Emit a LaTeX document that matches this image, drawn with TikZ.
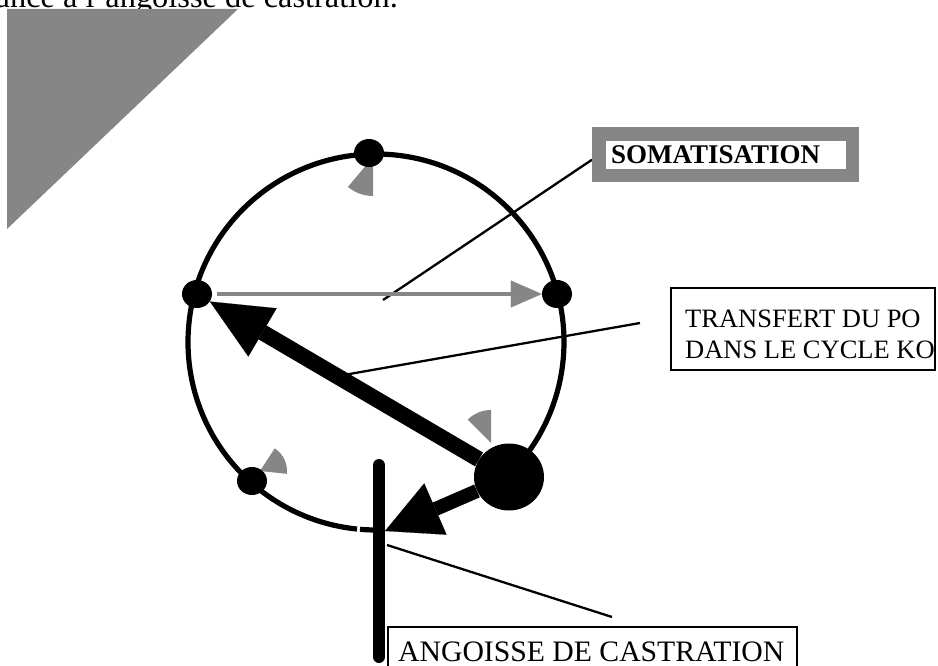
\documentclass[tikz,border=0pt]{standalone}
\usepackage{fontspec}
\setmainfont{Liberation Serif}
\usetikzlibrary{arrows.meta,shapes.geometric,calc}
\definecolor{hatch}{RGB}{134,134,134}
\pgfdeclarelayer{bg}
\pgfsetlayers{bg,main}
\begin{document}
\begin{tikzpicture}[x=1pt,y=-1pt,
  dot/.style={ellipse, fill=black, inner sep=0pt, minimum width=30pt, minimum height=28pt},
  bigdot/.style={ellipse, fill=black, inner sep=0pt, minimum width=70pt, minimum height=67pt},
  ring/.style={line width=5.2pt},
  leader/.style={line width=2.3pt},
  wedge/.style={fill=hatch},
  framebox/.style={draw, line width=2.4pt, inner sep=0pt, anchor=north west},
  plain/.style={inner sep=0pt},
]
\useasboundingbox (0,0) rectangle (938,666);

% running text above the figure
\node[plain, font=\fontsize{32.4}{37}\selectfont, anchor=base east] (heading) at (398,8) {ance à l’angoisse de castration.};
\fill[hatch] (7,9) -- (238,9) -- (7,229) -- cycle;

% points on the cycle
\coordinate (c) at (376,342);
\node[dot] (top) at (369,153) {};
\node[dot] (ldot) at (197,294) {};
\node[dot] (rdot) at (557,294) {};
\node[dot] (lldot) at (252,481) {};
\node[bigdot] (po) at (509,477) {};

% castration bar
\coordinate (bartop) at (379,465);
\coordinate (barbot) at (379,657);
\coordinate (cut) at (385,531);

% labels
\node[fill=hatch, inner sep=0pt, anchor=north west,
      minimum width=267pt, minimum height=55pt] (soma) at (592,127) {};
\fill[white] (606,141) rectangle (846,169);
\node[plain, font=\fontsize{27}{31}\selectfont\bfseries, anchor=base west] (somatext) at (611,164) {SOMATISATION};

\node[framebox, minimum width=264pt, minimum height=82pt] (transfert) at (669.5,287) {};
\node[plain, font=\fontsize{26.5}{31}\selectfont, align=left, anchor=north west] (transferttext) at (685,310)
  {TRANSFERT DU PO\\DANS LE CYCLE KO};

\node[framebox, minimum width=409pt, minimum height=60pt] (angoisse) at (387,626) {};
\node[plain, font=\fontsize{29.7}{34}\selectfont, anchor=base west] (angoissetext) at (398,661) {ANGOISSE DE CASTRATION};

% free ends of the leader lines
\coordinate (somafoot) at (383,300);
\coordinate (trfoot) at (640,323);
\coordinate (castpt) at (387,545);
\coordinate (angfoot) at (612,617);

\begin{pgfonlayer}{bg}
  % the cycle: open between the castration bar and the big point, with a small break
  \draw[ring] (c) ++(95.8:188) arc[start angle=95.8, end angle=405, radius=188];
  \draw[ring] (c) ++(88:188) arc[start angle=88, end angle=94.9, radius=188];
  % grey sectors
  \fill[wedge] (373,157) -- ++(90:39) arc[start angle=90, end angle=130, radius=39] -- cycle;
  \fill[wedge] (491,443) -- ++(-135:33) arc[start angle=-135, end angle=-90, radius=33] -- cycle;
  \fill[wedge] (260,471) -- ++(-57:27) arc[start angle=-57, end angle=6, radius=27] -- cycle;
  % leader lines
  \draw[leader] (somafoot) -- ([yshift=-5pt]soma.west);
  \draw[leader] ($(po.center)!0.551!(ldot.center)$) -- (trfoot);
  \draw[leader] (castpt) -- (angfoot);
  % arrows
  \draw[hatch, line width=4pt, shorten <=4.5pt,
        -{Triangle[length=31pt, width=27pt, line width=0.1pt]}] (ldot) -- (rdot);
  \draw[line width=16pt, -{Triangle[length=61pt, width=56pt, line width=0.1pt]}] (po) -- (ldot);
  \draw[line width=14pt, -{Triangle[length=55pt, width=56pt, line width=0.1pt]}] (po) -- (cut);
  \draw[line width=12pt, line cap=round] (bartop) -- (barbot);
\end{pgfonlayer}
\end{tikzpicture}
\end{document}
